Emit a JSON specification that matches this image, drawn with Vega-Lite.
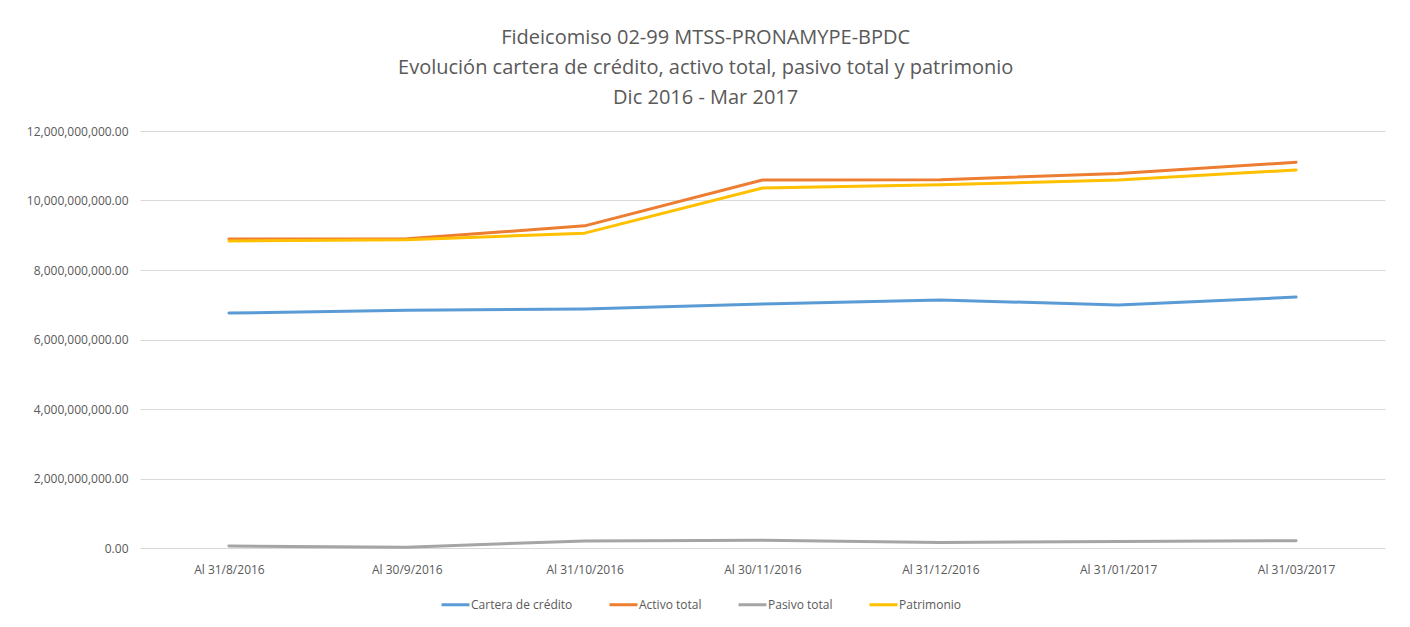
{
  "$schema": "https://vega.github.io/schema/vega-lite/v6.json",
  "autosize": {"type": "none"},
  "width": 1245,
  "height": 417,
  "padding": {"left": 140, "top": 131, "right": 25, "bottom": 79},
  "background": "white",
  "title": {
    "text": ["Fideicomiso 02-99 MTSS-PRONAMYPE-BPDC", "Evolución cartera de crédito, activo total, pasivo total y patrimonio", "Dic 2016 - Mar 2017"],
    "anchor": "middle",
    "frame": "bounds",
    "fontSize": 20,
    "fontWeight": "normal",
    "color": "#595959",
    "font": "Open Sans, sans-serif",
    "lineHeight": 30,
    "offset": 17
  },
  "data": {
    "values": [
      {"fecha": "Al 31/8/2016", "serie": "Cartera de crédito", "valor": 6760000000},
      {"fecha": "Al 30/9/2016", "serie": "Cartera de crédito", "valor": 6840000000},
      {"fecha": "Al 31/10/2016", "serie": "Cartera de crédito", "valor": 6880000000},
      {"fecha": "Al 30/11/2016", "serie": "Cartera de crédito", "valor": 7020000000},
      {"fecha": "Al 31/12/2016", "serie": "Cartera de crédito", "valor": 7140000000},
      {"fecha": "Al 31/01/2017", "serie": "Cartera de crédito", "valor": 6990000000},
      {"fecha": "Al 31/03/2017", "serie": "Cartera de crédito", "valor": 7220000000},
      {"fecha": "Al 31/8/2016", "serie": "Activo total", "valor": 8890000000},
      {"fecha": "Al 30/9/2016", "serie": "Activo total", "valor": 8900000000},
      {"fecha": "Al 31/10/2016", "serie": "Activo total", "valor": 9270000000},
      {"fecha": "Al 30/11/2016", "serie": "Activo total", "valor": 10590000000},
      {"fecha": "Al 31/12/2016", "serie": "Activo total", "valor": 10600000000},
      {"fecha": "Al 31/01/2017", "serie": "Activo total", "valor": 10780000000},
      {"fecha": "Al 31/03/2017", "serie": "Activo total", "valor": 11100000000},
      {"fecha": "Al 31/8/2016", "serie": "Pasivo total", "valor": 55000000},
      {"fecha": "Al 30/9/2016", "serie": "Pasivo total", "valor": 25000000},
      {"fecha": "Al 31/10/2016", "serie": "Pasivo total", "valor": 205000000},
      {"fecha": "Al 30/11/2016", "serie": "Pasivo total", "valor": 225000000},
      {"fecha": "Al 31/12/2016", "serie": "Pasivo total", "valor": 160000000},
      {"fecha": "Al 31/01/2017", "serie": "Pasivo total", "valor": 185000000},
      {"fecha": "Al 31/03/2017", "serie": "Pasivo total", "valor": 210000000},
      {"fecha": "Al 31/8/2016", "serie": "Patrimonio", "valor": 8835000000},
      {"fecha": "Al 30/9/2016", "serie": "Patrimonio", "valor": 8870000000},
      {"fecha": "Al 31/10/2016", "serie": "Patrimonio", "valor": 9060000000},
      {"fecha": "Al 30/11/2016", "serie": "Patrimonio", "valor": 10360000000},
      {"fecha": "Al 31/12/2016", "serie": "Patrimonio", "valor": 10450000000},
      {"fecha": "Al 31/01/2017", "serie": "Patrimonio", "valor": 10590000000},
      {"fecha": "Al 31/03/2017", "serie": "Patrimonio", "valor": 10880000000}
    ]
  },
  "mark": {"type": "line", "strokeWidth": 3, "strokeCap": "round", "strokeJoin": "round"},
  "encoding": {
    "x": {
      "field": "fecha",
      "type": "ordinal",
      "sort": null,
      "scale": {"type": "point", "padding": 0.5},
      "axis": {
        "title": null,
        "labelAngle": 0,
        "labelFontSize": 12,
        "labelColor": "#595959",
        "labelFont": "Open Sans, sans-serif",
        "labelPadding": 16,
        "ticks": false,
        "domain": false,
        "grid": false
      }
    },
    "y": {
      "field": "valor",
      "type": "quantitative",
      "scale": {"domain": [0, 12000000000], "nice": false},
      "axis": {
        "title": null,
        "values": [0, 2000000000, 4000000000, 6000000000, 8000000000, 10000000000, 12000000000],
        "format": ",.2f",
        "labelFontSize": 12,
        "labelColor": "#595959",
        "labelFont": "Open Sans, sans-serif",
        "labelPadding": 12,
        "ticks": false,
        "domain": false,
        "grid": true,
        "gridColor": "#d9d9d9",
        "gridWidth": 1
      }
    },
    "color": {
      "field": "serie",
      "type": "nominal",
      "sort": ["Cartera de crédito", "Activo total", "Pasivo total", "Patrimonio"],
      "scale": {
        "domain": ["Cartera de crédito", "Activo total", "Pasivo total", "Patrimonio"],
        "range": ["#5B9BD5", "#ED7D31", "#A5A5A5", "#FFC000"]
      },
      "legend": {
        "title": null,
        "orient": "none",
        "legendX": 300,
        "legendY": 458,
        "direction": "horizontal",
        "symbolType": "stroke",
        "symbolStrokeWidth": 3,
        "symbolSize": 780,
        "labelFontSize": 12,
        "labelColor": "#595959",
        "labelFont": "Open Sans, sans-serif",
        "labelOffset": 0,
        "columnPadding": 30
      }
    }
  },
  "config": {
    "view": {"stroke": null}
  }
}
